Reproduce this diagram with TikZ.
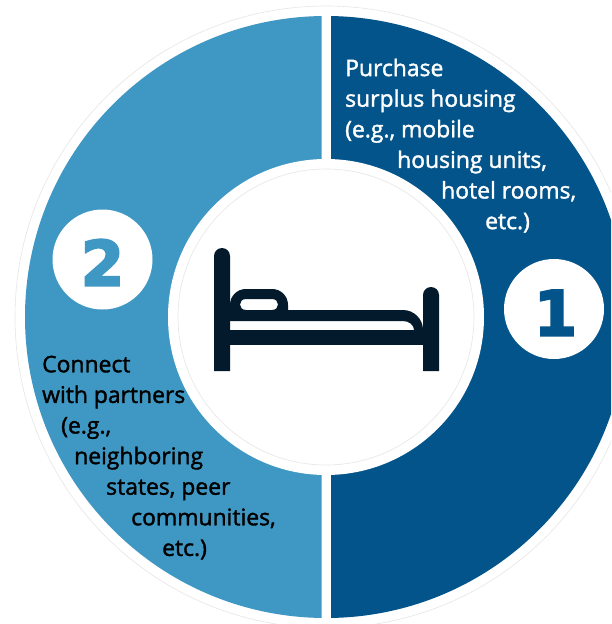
\documentclass[tikz,border=0pt]{standalone}
\usepackage{fontspec}
\setmainfont{Open Sans}[RawFeature={embolden=1.6}]
\newfontfamily\numfont{DejaVu Sans}[BoldFeatures={RawFeature={embolden=3.5}}]
\definecolor{ringdark}{HTML}{02548A}
\definecolor{ringlight}{HTML}{3F98C3}
\definecolor{beddark}{HTML}{021A2B}
\definecolor{hairline}{HTML}{E6E6E6}
\tikzset{
  every picture/.style={x=1pt,y=-1pt},
  ringlabel/.style={anchor=north west,inner sep=0pt,align=left,font=\fontsize{22.9}{30.6}\selectfont},
  badge/.style={circle,fill=white,minimum size=100pt,inner sep=0pt,font=\numfont\bfseries\fontsize{62}{62}\selectfont},
  hair/.style={draw=hairline,line width=0.6pt},
}
\begin{document}
\begin{tikzpicture}
\useasboundingbox (0,0) rectangle (611,624);
\fill[white] (0,0) rectangle (611,624);
\coordinate (c) at (326,317);
\begin{scope}
\clip (0,0) rectangle (611,624);
\draw[hair] (c) circle[radius=311];
\begin{scope}
\clip (0,0) rectangle (321.5,624);
\fill[ringlight] (c) circle[radius=301];
\end{scope}
\begin{scope}
\clip (331,0) rectangle (611,624);
\fill[ringdark] (c) circle[radius=301];
\end{scope}
\fill[white] (c) circle[radius=158];
\draw[hair] (c) circle[radius=148];
\end{scope}
% bed
\fill[beddark]
  (230,310) -- (403,310) .. controls (414,310) and (423,319) .. (423,330)
  -- (414,330) .. controls (414,325) and (409,321) .. (403,321) -- (230,321) -- cycle;
\fill[beddark,even odd rule]
  (230,310) -- (230,305) .. controls (230,296) and (237,289) .. (246,289)
  -- (272,289) .. controls (281,289) and (288,296) .. (288,305) -- (288,310) -- cycle
  (246,299) -- (272,299) .. controls (280,299) and (280,310) .. (272,310)
  -- (246,310) .. controls (238,310) and (238,299) .. (246,299) -- cycle;
\fill[beddark] (230,330) rectangle (423,345);
\fill[beddark] (214,371) -- (214,256) .. controls (214,251.6) and (217.6,248) .. (222,248)
  .. controls (226.4,248) and (230,251.6) .. (230,256) -- (230,371) -- cycle;
\fill[beddark] (423,371) -- (423,295) .. controls (423,290.6) and (426.6,287) .. (431,287)
  .. controls (435.4,287) and (439,290.6) .. (439,295) -- (439,371) -- cycle;
% badges
\node[badge,text=ringdark] (one) at (554,309) {\hspace*{3pt}\smash{\raisebox{-26.5pt}{1}}};
\node[badge,text=ringlight] (two) at (102.5,259.5) {\smash{\raisebox{-26pt}{2}}};
% labels
\node[ringlabel,text=white] (buy) at (345,58.5) {Purchase\\surplus housing\\(e.g., mobile\\\hspace*{52pt}housing units,\\\hspace*{96pt}hotel rooms,\\\hspace*{140pt}etc.)};
\node[ringlabel,text=black] (connect) at (42,355.5) {Connect\\with partners\\\hspace*{19pt}(e.g.,\\\hspace*{32pt}neighboring\\\hspace*{64pt}states, peer\\\hspace*{89pt}communities,\\\hspace*{120pt}etc.)};
\end{tikzpicture}
\end{document}
